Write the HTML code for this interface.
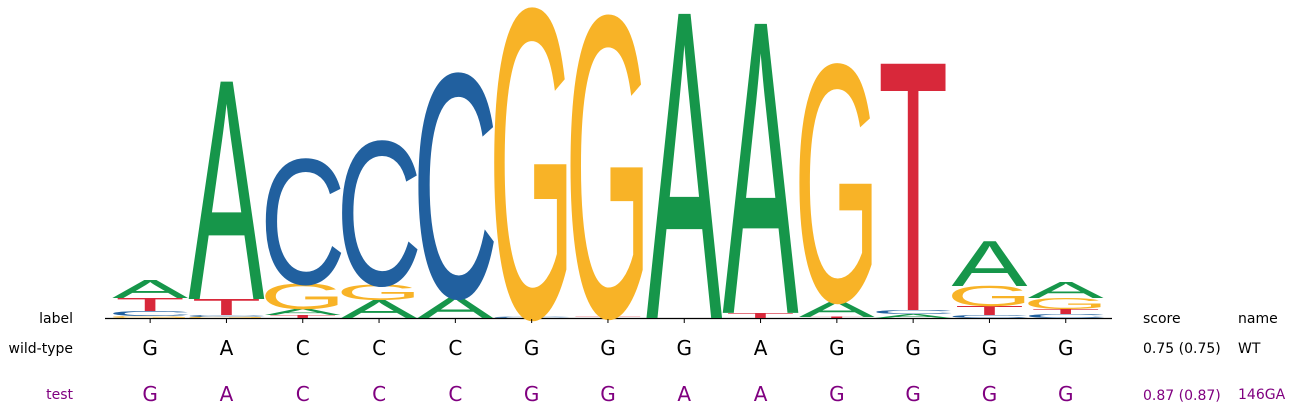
<!DOCTYPE html>
<html><head><meta charset="utf-8"><style>
body{margin:0;background:#fff;}
svg{display:block;font-family:"DejaVu Sans","Liberation Sans",sans-serif;}
</style></head><body>
<svg id="chart" width="1294" height="415">
<line x1="105" y1="318.5" x2="1112" y2="318.5" stroke="#000" stroke-width="1.2"/>
<g id="logo"></g>
<g id="ticks"></g>
<text x="73" y="323" font-size="14" text-anchor="end">label</text>
<text x="1143" y="323" font-size="14">score</text>
<text x="1238" y="323" font-size="14">name</text>
<text x="73" y="353" font-size="14" text-anchor="end">wild-type</text>
<text x="73" y="399" font-size="14" text-anchor="end" fill="#800080">test</text>
<text x="1143" y="353" font-size="14">0.75 (0.75)</text>
<text x="1143" y="400" font-size="14" fill="#800080">0.87 (0.87)</text>
<text x="1238" y="353" font-size="14">WT</text>
<text x="1238" y="399" font-size="14" fill="#800080">146GA</text>
<g id="seqs"></g>
</svg>
<script>
// stacks bottom-to-top, heights in bits
const stackLetters = [
 ["G","C","T","A"],["G","C","T","A"],["T","A","G","C"],["A","G","C"],["A","C"],["C","G"],["T","G"],["A"],["T","A"],["T","A","G"],["A","C","T"],["C","T","G","A"],["C","T","G","A"]
];
const stackBits = [
 [0.013,0.033,0.085,0.117],[0.007,0.013,0.104,1.42],[0.02,0.04,0.163,0.808],[0.117,0.098,0.932],[0.137,1.446],[0.007,1.993],[0.013,1.941],[1.987],[0.033,1.889],[0.007,0.104,1.531],[0.026,0.026,1.609],[0.02,0.059,0.13,0.293],[0.026,0.033,0.072,0.104]
];
const wildType = ["G","A","C","C","C","G","G","G","A","G","G","G","G"];
const testSeq  = ["G","A","C","C","C","G","G","A","A","G","G","G","G"];
const colors = {A:"#16964a",C:"#21609f",G:"#f8b327",T:"#d8283a"};
const widths = {A:76,C:86,G:86,T:70};
const NS="http://www.w3.org/2000/svg";
const x0=112, step=76.3, baseY=318, pxPerBit=153.5;
const xPos = i => x0 + step*i + step/2;
const yLen = b => b*pxPerBit;
const logo=document.getElementById('logo'), ticks=document.getElementById('ticks'), seqs=document.getElementById('seqs');
stackLetters.forEach((letters,i)=>{
  let y=baseY;
  letters.forEach((L,j)=>{
    const h=yLen(stackBits[i][j]);
    if(h<0.3){return;}
    const w=widths[L];
    const t=document.createElementNS(NS,'text');
    
    
    t.setAttribute('font-size','100');
    t.setAttribute('font-family','Liberation Sans, sans-serif');
    t.setAttribute('x','0');t.setAttribute('y','0');
    t.setAttribute('textLength',w);
    t.setAttribute('lengthAdjust','spacingAndGlyphs');
    t.setAttribute('fill',colors[L]);
    t.setAttribute('transform',`translate(${xPos(i)-w/2},${y}) scale(1,${h/69})`);
    t.textContent=L;
    logo.appendChild(t);
    y-=h;
  });
  const tk=document.createElementNS(NS,'line');
  
  
  tk.setAttribute('x1',xPos(i));tk.setAttribute('x2',xPos(i));
  tk.setAttribute('y1',319);tk.setAttribute('y2',323);tk.setAttribute('stroke','#000');
  ticks.appendChild(tk);
  [[wildType,355,"#000"],[testSeq,401,"#800080"]].forEach(([s,yy,c])=>{
    const t=document.createElementNS(NS,'text');
    
    
    t.setAttribute('x',xPos(i));t.setAttribute('y',yy);
    t.setAttribute('font-size','20');t.setAttribute('text-anchor','middle');t.setAttribute('fill',c);
    t.textContent=s[i];
    seqs.appendChild(t);
  });
});
</script>
</body></html>
